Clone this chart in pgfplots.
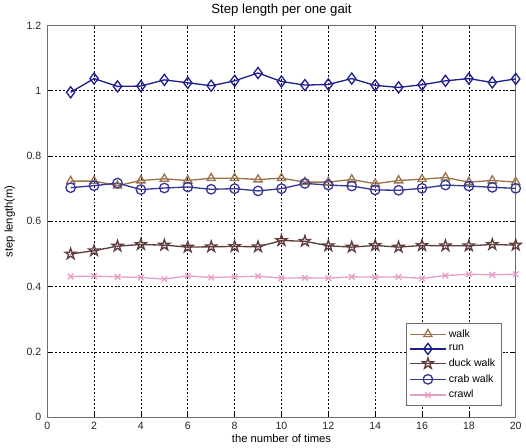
\documentclass[border=0pt]{standalone}
\usepackage{fontspec}
\setmainfont{Liberation Sans}
\usepackage{pgfplots}
\pgfplotsset{compat=1.18}

\definecolor{walkc}{RGB}{155,115,75}
\definecolor{runc}{RGB}{30,30,140}
\definecolor{duckc}{RGB}{95,60,60}
\definecolor{crabc}{RGB}{55,55,150}
\definecolor{crawlc}{RGB}{230,160,200}
\definecolor{boxc}{RGB}{110,110,110}

% outlined five-point star, like matlab's 'p'
\pgfdeclareplotmark{pentagram}{%
  \pgfpathmoveto{\pgfpointpolar{90}{1.2\pgfplotmarksize}}%
  \pgfpathlineto{\pgfpointpolar{126}{0.46\pgfplotmarksize}}%
  \pgfpathlineto{\pgfpointpolar{162}{1.2\pgfplotmarksize}}%
  \pgfpathlineto{\pgfpointpolar{198}{0.46\pgfplotmarksize}}%
  \pgfpathlineto{\pgfpointpolar{234}{1.2\pgfplotmarksize}}%
  \pgfpathlineto{\pgfpointpolar{270}{0.46\pgfplotmarksize}}%
  \pgfpathlineto{\pgfpointpolar{306}{1.2\pgfplotmarksize}}%
  \pgfpathlineto{\pgfpointpolar{342}{0.46\pgfplotmarksize}}%
  \pgfpathlineto{\pgfpointpolar{18}{1.2\pgfplotmarksize}}%
  \pgfpathlineto{\pgfpointpolar{54}{0.46\pgfplotmarksize}}%
  \pgfpathclose\pgfusepathqstroke}

\begin{document}
\begin{tikzpicture}
\begin{axis}[
  scale only axis,
  width=355pt, height=297pt,
  xmin=0, xmax=20, ymin=0, ymax=1.2,
  xtick={0,2,...,20},
  ytick={0,0.2,0.4,0.6,0.8,1,1.2},
  /pgf/number format/assume math mode=true,
  yticklabel style={/pgf/number format/fixed, xshift=-1pt},
  tick label style={font=\fontsize{8}{9}\selectfont, text=black!85},
  label style={font=\fontsize{8.5}{9}\selectfont},
  title style={font=\fontsize{10}{11}\selectfont, yshift=-3pt},
  title={Step length per one gait},
  xlabel={the number of times},
  ylabel={step length(m)},
  xlabel style={yshift=3pt},
  ylabel style={yshift=2pt},
  axis line style={boxc, line width=0.8pt},
  tick style={black, line width=0.5pt},
  tick align=inside,
  major tick length=3pt,
  grid=major,
  major grid style={black, line width=0.5pt, dash pattern=on 1.5pt off 1.5pt},
  legend style={at={(0.97,0.028)}, anchor=south east, draw=boxc,
    line width=0.8pt, font=\fontsize{8}{9}\selectfont,
    row sep=0.6pt, inner sep=2.5pt},
  legend cell align=left,
  legend image code/.code={%
    \draw[line width=1pt, mark repeat=2,mark phase=2] plot coordinates {(0cm,0cm) (0.47cm,0cm) (0.94cm,0cm)};},
  every axis plot/.append style={line width=1pt},
]
\addplot[walkc, mark=triangle, mark size=3.6pt, mark options={solid}] coordinates {
(1,0.723) (2,0.723) (3,0.709) (4,0.725) (5,0.730) (6,0.725) (7,0.732) (8,0.732) (9,0.728) (10,0.732)
(11,0.720) (12,0.720) (13,0.728) (14,0.715) (15,0.725) (16,0.729) (17,0.734) (18,0.720) (19,0.725) (20,0.720)};
\addlegendentry{walk}
\addplot[runc, mark=diamond, mark size=4.2pt, mark options={solid}] coordinates {
(1,0.995) (2,1.037) (3,1.013) (4,1.014) (5,1.033) (6,1.024) (7,1.015) (8,1.030) (9,1.054) (10,1.028)
(11,1.017) (12,1.019) (13,1.037) (14,1.016) (15,1.010) (16,1.018) (17,1.030) (18,1.037) (19,1.025) (20,1.036)};
\addlegendentry{run}
\addplot[duckc, mark=pentagram, mark size=3.6pt, mark options={solid}] coordinates {
(1,0.500) (2,0.510) (3,0.524) (4,0.529) (5,0.527) (6,0.521) (7,0.522) (8,0.523) (9,0.522) (10,0.541)
(11,0.539) (12,0.525) (13,0.521) (14,0.526) (15,0.521) (16,0.526) (17,0.525) (18,0.525) (19,0.529) (20,0.527)};
\addlegendentry{duck walk}
\addplot[crabc, mark=o, mark size=3.6pt, mark options={solid}] coordinates {
(1,0.703) (2,0.709) (3,0.717) (4,0.697) (5,0.702) (6,0.705) (7,0.698) (8,0.700) (9,0.693) (10,0.700)
(11,0.716) (12,0.711) (13,0.708) (14,0.696) (15,0.695) (16,0.701) (17,0.711) (18,0.708) (19,0.704) (20,0.701)};
\addlegendentry{crab walk}
\addplot[crawlc, mark=x, mark size=3pt, mark options={solid}] coordinates {
(1,0.431) (2,0.432) (3,0.430) (4,0.428) (5,0.423) (6,0.433) (7,0.428) (8,0.430) (9,0.432) (10,0.426)
(11,0.427) (12,0.426) (13,0.430) (14,0.429) (15,0.430) (16,0.425) (17,0.434) (18,0.438) (19,0.436) (20,0.438)};
\addlegendentry{crawl}
\end{axis}
\end{tikzpicture}
\end{document}
